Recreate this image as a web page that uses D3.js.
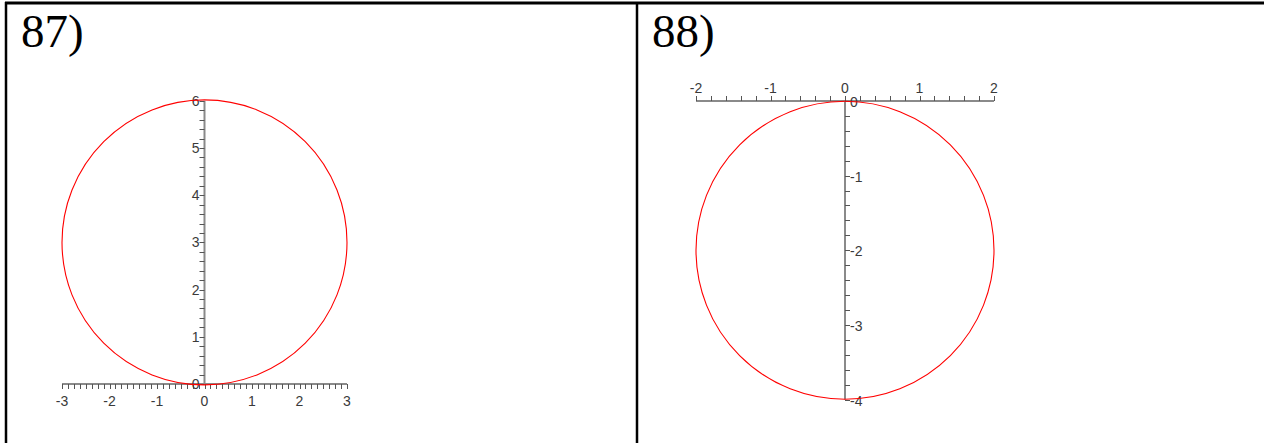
<!DOCTYPE html>
<html>
<head>
<meta charset="utf-8">
<script src="https://cdn.jsdelivr.net/npm/d3@7"></script>
<style>
  html, body { margin: 0; padding: 0; background: #fff; }
  svg { display: block; }
</style>
</head>
<body>
<svg id="chart" width="1264" height="443"></svg>
<script>
// Problem numbers shown in each cell
const panelLabels = ["87)", "88)"];

// Panel 87: circle centred at (0, 3), radius 3
const circle87 = { cx: 0, cy: 3, r: 3 };
const xTicks87 = [-3, -2, -1, 0, 1, 2, 3];
const yTicks87 = [0, 1, 2, 3, 4, 5, 6];
const xMinorStep87 = 0.125;
const yMinorStep87 = 0.2;

// Panel 88: circle centred at (0, -2), radius 2
const circle88 = { cx: 0, cy: -2, r: 2 };
const xTicks88 = [-2, -1, 0, 1, 2];
const yTicks88 = [0, -1, -2, -3, -4];
const xMinorStep88 = 0.2;
const yMinorStep88 = 0.2;

const svg = d3.select("#chart");

// table grid
const grid = svg.append("g").attr("stroke", "#000").attr("fill", "none");
grid.append("line").attr("x1", 5).attr("x2", 1264).attr("y1", 3).attr("y2", 3).attr("stroke-width", 3);
grid.append("line").attr("x1", 6).attr("x2", 6).attr("y1", 2).attr("y2", 443).attr("stroke-width", 2.5);
grid.append("line").attr("x1", 637).attr("x2", 637).attr("y1", 2).attr("y2", 443).attr("stroke-width", 2.5);

svg.selectAll("text.num").data([[21, panelLabels[0]], [652, panelLabels[1]]])
  .join("text")
  .attr("class", "num")
  .attr("x", d => d[0]).attr("y", 47)
  .attr("font-family", "'Liberation Serif', 'Times New Roman', serif")
  .attr("font-size", 47)
  .attr("fill", "#000")
  .text(d => d[1]);

const axisColor = "#8a8a8a";
const tickColor = "#555";
const labelColor = "#3a3a3a";
const labelFont = "'Liberation Sans', Arial, sans-serif";
const labelSize = 14;

function minorValues(lo, hi, step) {
  const n = Math.round((hi - lo) / step);
  return d3.range(n + 1).map(i => lo + i * step);
}

// ---------- Panel 87 ----------
{
  const x = d3.scaleLinear().domain([-3, 3]).range([62, 347]);
  const y = d3.scaleLinear().domain([0, 6]).range([384, 100.8]);
  const g = svg.append("g");

  // x axis with ticks hanging below
  g.append("line").attr("x1", x(-3)).attr("x2", x(3)).attr("y1", y(0)).attr("y2", y(0))
    .attr("stroke", axisColor).attr("stroke-width", 2);
  g.selectAll("line.xt").data(minorValues(-3, 3, xMinorStep87)).join("line")
    .attr("x1", d => Math.round(x(d)) + 0.5).attr("x2", d => Math.round(x(d)) + 0.5)
    .attr("y1", y(0)).attr("y2", y(0) + 5)
    .attr("stroke", tickColor).attr("stroke-width", 1);
  g.selectAll("text.xl").data(xTicks87).join("text")
    .attr("x", d => x(d)).attr("y", 406)
    .attr("text-anchor", "middle")
    .attr("font-family", labelFont).attr("font-size", labelSize).attr("fill", labelColor)
    .text(d => d);

  // y axis with ticks pointing left
  g.append("line").attr("x1", x(0)).attr("x2", x(0)).attr("y1", y(0)).attr("y2", y(6))
    .attr("stroke", axisColor).attr("stroke-width", 2);
  g.selectAll("line.yt").data(minorValues(0, 6, yMinorStep87)).join("line")
    .attr("x1", x(0) - 5).attr("x2", x(0))
    .attr("y1", d => Math.round(y(d)) + 0.5).attr("y2", d => Math.round(y(d)) + 0.5)
    .attr("stroke", tickColor).attr("stroke-width", 1);
  g.selectAll("text.yl").data(yTicks87).join("text")
    .attr("x", x(0) - 5).attr("y", d => y(d) + 5)
    .attr("text-anchor", "end")
    .attr("font-family", labelFont).attr("font-size", labelSize).attr("fill", labelColor)
    .text(d => d);

  g.append("circle")
    .attr("cx", x(circle87.cx)).attr("cy", y(circle87.cy))
    .attr("r", x(circle87.r) - x(0))
    .attr("fill", "none").attr("stroke", "#ff0000").attr("stroke-width", 1.1);
}

// ---------- Panel 88 ----------
{
  const x = d3.scaleLinear().domain([-2, 2]).range([696, 994]);
  const y = d3.scaleLinear().domain([0, -4]).range([101, 399.5]);
  const g = svg.append("g");

  // x axis with ticks pointing up
  g.append("line").attr("x1", x(-2)).attr("x2", x(2)).attr("y1", y(0)).attr("y2", y(0))
    .attr("stroke", axisColor).attr("stroke-width", 2);
  g.selectAll("line.xt").data(minorValues(-2, 2, xMinorStep88)).join("line")
    .attr("x1", d => Math.round(x(d)) + 0.5).attr("x2", d => Math.round(x(d)) + 0.5)
    .attr("y1", y(0) - 5).attr("y2", y(0))
    .attr("stroke", tickColor).attr("stroke-width", 1);
  g.selectAll("text.xl").data(xTicks88).join("text")
    .attr("x", d => x(d)).attr("y", 93)
    .attr("text-anchor", "middle")
    .attr("font-family", labelFont).attr("font-size", labelSize).attr("fill", labelColor)
    .text(d => d);

  // y axis with ticks pointing right
  g.append("line").attr("x1", x(0)).attr("x2", x(0)).attr("y1", y(0)).attr("y2", y(-4))
    .attr("stroke", axisColor).attr("stroke-width", 2);
  g.selectAll("line.yt").data(minorValues(-4, 0, yMinorStep88)).join("line")
    .attr("x1", x(0)).attr("x2", x(0) + 5)
    .attr("y1", d => Math.round(y(d)) + 0.5).attr("y2", d => Math.round(y(d)) + 0.5)
    .attr("stroke", tickColor).attr("stroke-width", 1);
  g.selectAll("text.yl").data(yTicks88).join("text")
    .attr("x", x(0) + 5).attr("y", d => y(d) + 6)
    .attr("text-anchor", "start")
    .attr("font-family", labelFont).attr("font-size", labelSize).attr("fill", labelColor)
    .text(d => d);

  g.append("circle")
    .attr("cx", x(circle88.cx)).attr("cy", y(circle88.cy))
    .attr("r", x(circle88.r) - x(0))
    .attr("fill", "none").attr("stroke", "#ff0000").attr("stroke-width", 1.1);
}
</script>
</body>
</html>
